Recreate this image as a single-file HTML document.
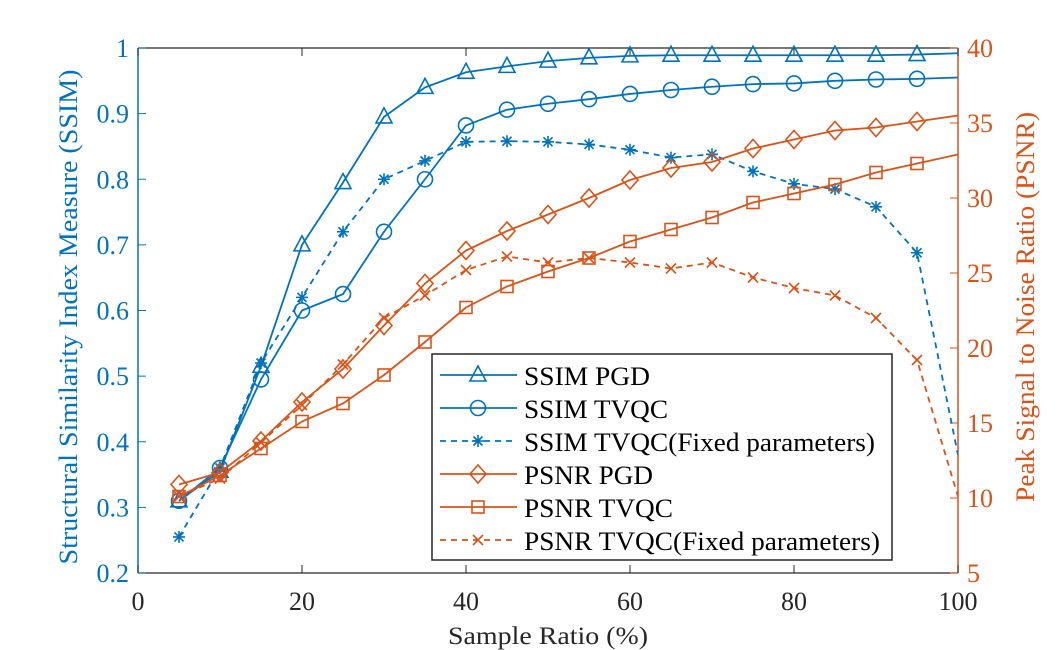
<!DOCTYPE html>
<html><head><meta charset="utf-8"><style>
html,body{margin:0;padding:0;background:#fff;width:1058px;height:650px;overflow:hidden}
svg text{font-family:"Liberation Serif","Times New Roman",serif}
</style></head><body>
<svg id="chart" width="1058" height="650" xmlns="http://www.w3.org/2000/svg"></svg>
<script>
const xValues=[5,10,15,20,25,30,35,40,45,50,55,60,65,70,75,80,85,90,95,100];
const ssimPGD=[0.31,0.355,0.515,0.70,0.795,0.895,0.94,0.963,0.972,0.98,0.985,0.988,0.989,0.989,0.989,0.989,0.989,0.989,0.99,0.992];
const ssimTVQC=[0.31,0.36,0.495,0.60,0.625,0.72,0.80,0.882,0.906,0.915,0.922,0.93,0.936,0.941,0.945,0.946,0.95,0.952,0.953,0.955];
const ssimFixed=[0.255,0.36,0.52,0.62,0.72,0.80,0.828,0.857,0.858,0.857,0.853,0.845,0.833,0.838,0.812,0.793,0.785,0.758,0.688,0.38];
const psnrPGD=[10.9,11.7,13.8,16.4,18.6,21.5,24.3,26.5,27.8,28.9,30,31.2,32,32.4,33.3,33.9,34.5,34.7,35.1,35.5];
const psnrTVQC=[10.1,11.5,13.3,15.1,16.3,18.2,20.4,22.7,24.1,25.1,26,27.1,27.9,28.7,29.7,30.3,30.9,31.7,32.3,32.9];
const psnrFixed=[10.1,11.3,13.7,16.2,18.9,22,23.5,25.2,26.1,25.7,26,25.7,25.3,25.7,24.7,24,23.5,22,19.2,10.1];
const xTicks=[0,20,40,60,80,100];
const yLeftTicks=[0.2,0.3,0.4,0.5,0.6,0.7,0.8,0.9,1];
const yLeftLabels=["0.2","0.3","0.4","0.5","0.6","0.7","0.8","0.9","1"];
const yRightTicks=[5,10,15,20,25,30,35,40];

const L=138,R=958,T=48,B=573;
const BLUE="#0072BD",ORANGE="#D95319";
const sx=v=>L+(v-0)/100*(R-L);
const syL=v=>B-(v-0.2)/0.8*(B-T);
const syR=v=>B-(v-5)/35*(B-T);
const svg=document.getElementById('chart');
const NS="http://www.w3.org/2000/svg";
function mk(tag,attrs,parent){const e=document.createElementNS(NS,tag);for(const k in attrs)e.setAttribute(k,attrs[k]);(parent||svg).appendChild(e);return e;}

const frame=mk('g',{});


mk('line',{x1:L,y1:T,x2:R,y2:T,stroke:"#262626","stroke-width":1.2},frame);
mk('line',{x1:L,y1:B,x2:R,y2:B,stroke:"#262626","stroke-width":1.2},frame);
mk('line',{x1:L,y1:T,x2:L,y2:B,stroke:BLUE,"stroke-width":1.5},frame);
mk('line',{x1:R,y1:T,x2:R,y2:B,stroke:ORANGE,"stroke-width":1.5},frame);

const xg=mk('g',{});


xTicks.forEach(t=>{const x=sx(t);
 mk('line',{x1:x,y1:B,x2:x,y2:B-8,stroke:"#262626"},xg);
 mk('line',{x1:x,y1:T,x2:x,y2:T+8,stroke:"#262626"},xg);
 const tx=mk('text',{x:x,y:610,"text-anchor":"middle","font-size":26,fill:"#262626"},xg);tx.textContent=t;});
const xt=mk('text',{x:548,y:644,"text-anchor":"middle","font-size":25,fill:"#262626",textLength:200,lengthAdjust:"spacingAndGlyphs"});
xt.textContent="Sample Ratio (%)";



const yl=mk('g',{});


yLeftTicks.forEach((t,i)=>{const y=syL(t);
 mk('line',{x1:L,y1:y,x2:L+8,y2:y,stroke:BLUE},yl);
 const tx=mk('text',{x:L-9,y:y+9,"text-anchor":"end","font-size":26,fill:BLUE},yl);tx.textContent=yLeftLabels[i];});
const ylt=mk('text',{x:0,y:0,"text-anchor":"middle","font-size":26,fill:BLUE,textLength:495,lengthAdjust:"spacingAndGlyphs",transform:`translate(77,317) rotate(-90)`});
ylt.textContent="Structural Similarity Index Measure (SSIM)";



const yr=mk('g',{});


yRightTicks.forEach(t=>{const y=syR(t);
 mk('line',{x1:R,y1:y,x2:R-8,y2:y,stroke:ORANGE},yr);
 const tx=mk('text',{x:R+9,y:y+9,"text-anchor":"start","font-size":26,fill:ORANGE},yr);tx.textContent=t;});
const yrt=mk('text',{x:0,y:0,"text-anchor":"middle","font-size":26,fill:ORANGE,textLength:390,lengthAdjust:"spacingAndGlyphs",transform:`translate(1034,307) rotate(-90)`});
yrt.textContent="Peak Signal to Noise Ratio (PSNR)";



function marker(g,type,x,y,c){
 const a={fill:"none",stroke:c,"stroke-width":1.6};
 if(type==='tri')mk('path',Object.assign({d:`M${x} ${y-9}L${x+8} ${y+6}L${x-8} ${y+6}Z`},a),g);
 else if(type==='circ')mk('circle',Object.assign({cx:x,cy:y,r:7.5},a),g);
 else if(type==='star'){mk('path',Object.assign({d:`M${x-6} ${y}H${x+6}M${x} ${y-6}V${y+6}M${x-4.5} ${y-4.5}L${x+4.5} ${y+4.5}M${x-4.5} ${y+4.5}L${x+4.5} ${y-4.5}`},a),g);}
 else if(type==='dia')mk('path',Object.assign({d:`M${x} ${y-9}L${x+8} ${y}L${x} ${y+9}L${x-8} ${y}Z`},a),g);
 else if(type==='sq')mk('rect',Object.assign({x:x-6,y:y-6,width:12,height:12},a),g);
 else if(type==='x')mk('path',Object.assign({d:`M${x-5} ${y-5}L${x+5} ${y+5}M${x-5} ${y+5}L${x+5} ${y-5}`},a),g);
}
const clip=mk('clipPath',{id:'pc'});mk('rect',{x:L,y:T-12,width:R-L,height:B-T+24},clip);
function series(name,vals,sy,c,dash,m){
 const g=mk('g',{"clip-path":"url(#pc)"});
 
 
 const d=vals.map((v,i)=>(i?'L':'M')+sx(xValues[i])+' '+sy(v)).join('');
 mk('path',{d:d,fill:"none",stroke:c,"stroke-width":1.8,"stroke-dasharray":dash?"6 5":"none"},g);
 vals.forEach((v,i)=>{if(i<vals.length-1)marker(g,m,sx(xValues[i]),sy(v),c);});
}
series('ssim-pgd-series',ssimPGD,syL,BLUE,false,'tri');
series('ssim-tvqc-series',ssimTVQC,syL,BLUE,false,'circ');
series('ssim-fixed-series',ssimFixed,syL,BLUE,true,'star');
series('psnr-pgd-series',psnrPGD,syR,ORANGE,false,'dia');
series('psnr-tvqc-series',psnrTVQC,syR,ORANGE,false,'sq');
series('psnr-fixed-series',psnrFixed,syR,ORANGE,true,'x');

const lg=mk('g',{});


mk('rect',{x:432,y:354,width:460,height:206,fill:"#fff",stroke:"#262626","stroke-width":1.5},lg);
const items=[["SSIM PGD",BLUE,false,'tri',126],["SSIM TVQC",BLUE,false,'circ',144],["SSIM TVQC(Fixed parameters)",BLUE,true,'star',351],["PSNR PGD",ORANGE,false,'dia',129],["PSNR TVQC",ORANGE,false,'sq',149],["PSNR TVQC(Fixed parameters)",ORANGE,true,'x',356]];
items.forEach((it,i)=>{const y=375+i*33;
 const e=mk('g',{},lg);
 
 
 mk('line',{x1:440,y1:y,x2:517,y2:y,stroke:it[1],"stroke-width":1.8,"stroke-dasharray":it[2]?"6 5":"none"},e);
 marker(e,it[3],478,y,it[1]);
 const t=mk('text',{x:524,y:y+10,"font-size":26,fill:"#000",textLength:it[4],lengthAdjust:"spacingAndGlyphs"},e);t.textContent=it[0];});
</script>
</body></html>
